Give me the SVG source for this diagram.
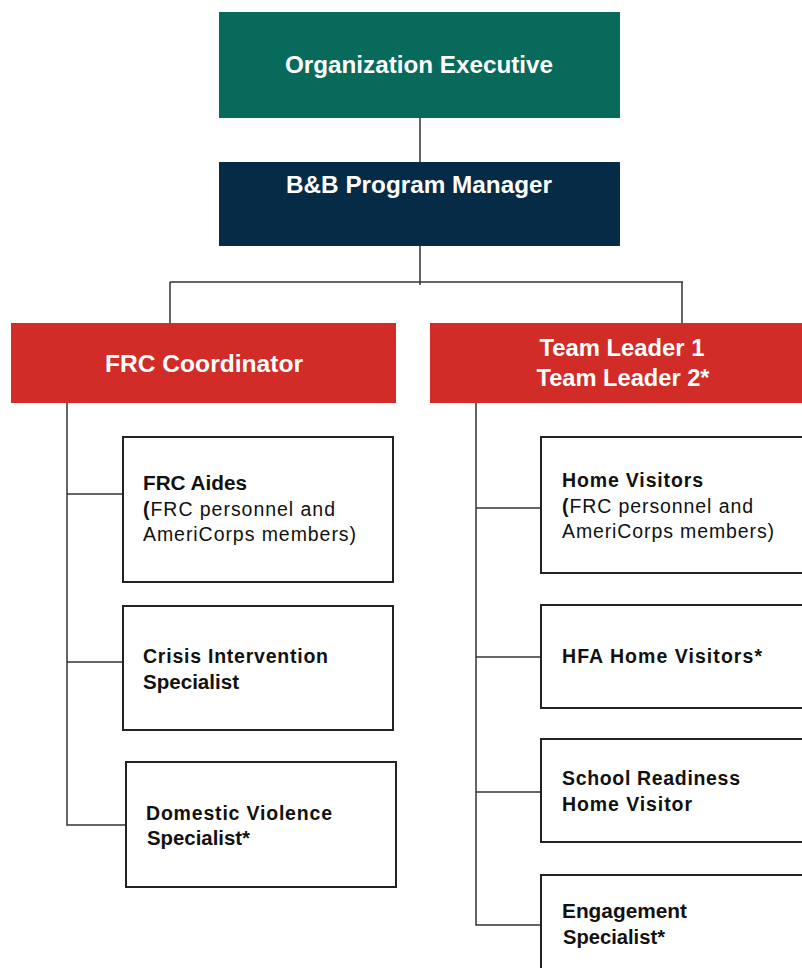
<svg xmlns="http://www.w3.org/2000/svg" width="802" height="968" viewBox="0 0 802 968">
<style>
.hdr{font-family:"Liberation Sans",Arial,sans-serif;font-weight:bold;fill:#ffffff}
.big{font-size:23px}
.mid{font-size:24px}
.box{fill:#ffffff;stroke:#222222;stroke-width:2}
.lbl{font-family:"Liberation Sans",Arial,sans-serif;font-size:19.5px;fill:#111111}
.b{font-weight:bold}
.con{stroke:#333333;stroke-width:1.5;fill:none}
</style>
<rect width="802" height="968" fill="#ffffff"/>
<g id="connectors">
<line class="con" x1="420" y1="118" x2="420" y2="162"/>
<line class="con" x1="420" y1="246" x2="420" y2="285"/>
<line class="con" x1="170" y1="282" x2="683" y2="282"/>
<line class="con" x1="170" y1="282" x2="170" y2="323"/>
<line class="con" x1="682" y1="282" x2="682" y2="323"/>
<polyline class="con" points="67,403 67,825 126,825"/>
<line class="con" x1="67" y1="494" x2="123" y2="494"/>
<line class="con" x1="67" y1="662" x2="123" y2="662"/>
<polyline class="con" points="476,403 476,925 541,925"/>
<line class="con" x1="476" y1="508" x2="541" y2="508"/>
<line class="con" x1="476" y1="657" x2="541" y2="657"/>
<line class="con" x1="476" y1="792" x2="541" y2="792"/>
</g>
<g id="org-exec">
<rect x="219" y="12" width="401" height="106" fill="#076A5B"/>
<text class="hdr big" x="419" y="73" text-anchor="middle" textLength="268" lengthAdjust="spacingAndGlyphs">Organization Executive</text>
</g>
<g id="program-manager">
<rect x="219" y="162" width="401" height="84" fill="#062B47"/>
<text class="hdr big" x="419" y="193" text-anchor="middle" textLength="266" lengthAdjust="spacingAndGlyphs">B&amp;B Program Manager</text>
</g>
<g id="frc-coordinator">
<rect x="11" y="323" width="385" height="80" fill="#D12C27"/>
<text class="hdr mid" x="204" y="372" text-anchor="middle" textLength="198" lengthAdjust="spacingAndGlyphs">FRC Coordinator</text>
</g>
<g id="team-leaders">
<rect x="430" y="323" width="385" height="80" fill="#D12C27"/>
<text class="hdr mid" x="622" y="356" text-anchor="middle" textLength="165" lengthAdjust="spacingAndGlyphs">Team Leader 1</text>
<text class="hdr mid" x="623" y="386" text-anchor="middle" textLength="173" lengthAdjust="spacingAndGlyphs">Team Leader 2*</text>
</g>
<g id="frc-aides">
<rect class="box" x="123" y="437" width="270" height="145"/>
<text class="lbl b" x="143" y="490" textLength="104" lengthAdjust="spacingAndGlyphs">FRC Aides</text>
<text class="lbl" x="143" y="516" textLength="192" lengthAdjust="spacing"><tspan class="b">(</tspan>FRC personnel and</text>
<text class="lbl" x="143" y="541" textLength="213" lengthAdjust="spacing">AmeriCorps members)</text>
</g>
<g id="crisis-intervention">
<rect class="box" x="123" y="606" width="270" height="124"/>
<text class="lbl b" x="143" y="663" textLength="185" lengthAdjust="spacing">Crisis Intervention</text>
<text class="lbl b" x="143" y="689" textLength="96" lengthAdjust="spacingAndGlyphs">Specialist</text>
</g>
<g id="domestic-violence">
<rect class="box" x="126" y="762" width="270" height="125"/>
<text class="lbl b" x="146" y="820" textLength="186" lengthAdjust="spacing">Domestic Violence</text>
<text class="lbl b" x="147" y="845" textLength="103" lengthAdjust="spacingAndGlyphs">Specialist*</text>
</g>
<g id="home-visitors">
<rect class="box" x="541" y="437" width="272" height="136"/>
<text class="lbl b" x="562" y="487" textLength="141" lengthAdjust="spacing">Home Visitors</text>
<text class="lbl" x="562" y="513" textLength="191" lengthAdjust="spacing"><tspan class="b">(</tspan>FRC personnel and</text>
<text class="lbl" x="562" y="538" textLength="212" lengthAdjust="spacing">AmeriCorps members)</text>
</g>
<g id="hfa-home-visitors">
<rect class="box" x="541" y="605" width="272" height="103"/>
<text class="lbl b" x="562" y="663" textLength="200" lengthAdjust="spacing">HFA Home Visitors*</text>
</g>
<g id="school-readiness">
<rect class="box" x="541" y="739" width="272" height="103"/>
<text class="lbl b" x="562" y="785" textLength="178" lengthAdjust="spacing">School Readiness</text>
<text class="lbl b" x="562" y="811" textLength="130" lengthAdjust="spacing">Home Visitor</text>
</g>
<g id="engagement-specialist">
<rect class="box" x="541" y="875" width="272" height="110"/>
<text class="lbl b" x="562" y="918" textLength="125" lengthAdjust="spacingAndGlyphs">Engagement</text>
<text class="lbl b" x="563" y="944" textLength="102" lengthAdjust="spacingAndGlyphs">Specialist*</text>
</g>
</svg>
